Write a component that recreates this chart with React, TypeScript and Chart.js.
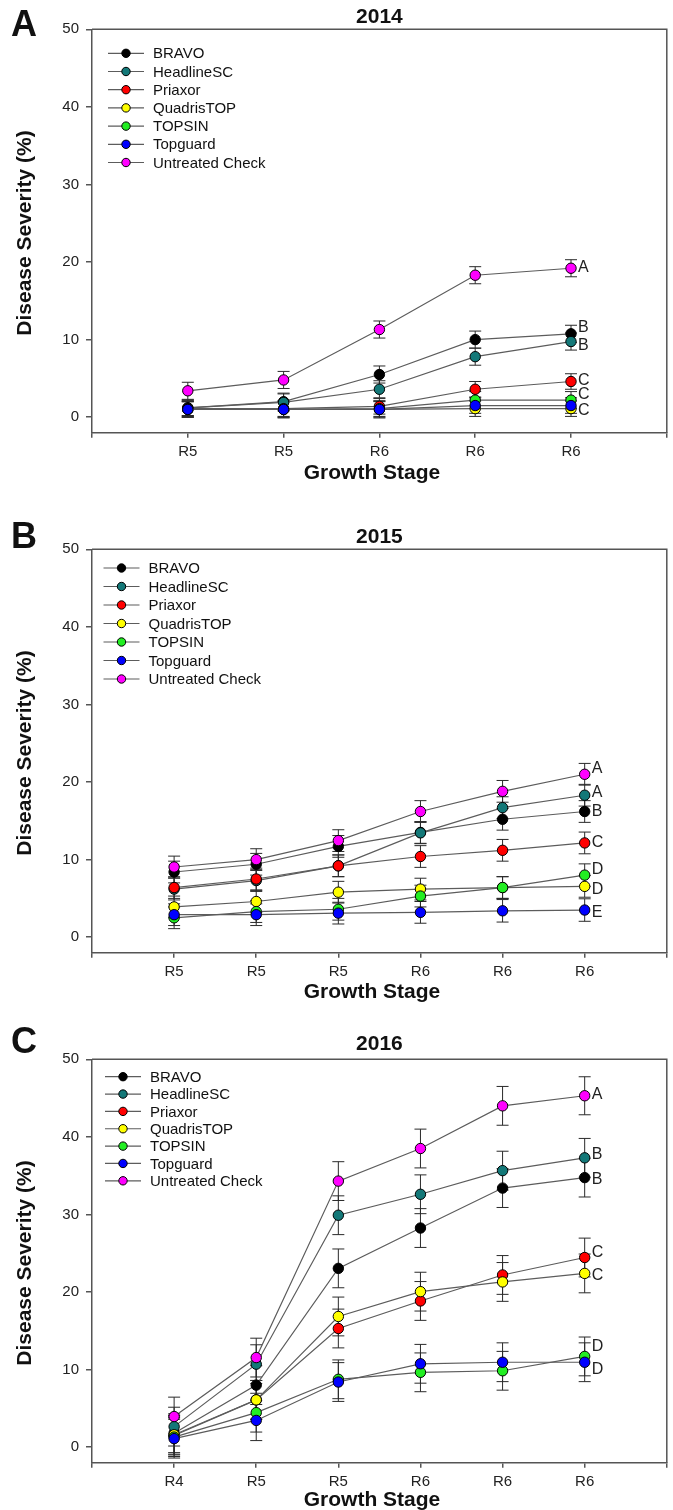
import React, { useEffect, useRef } from 'react';
import { Chart, registerables } from 'chart.js';

Chart.register(...registerables);

const FONT = '"Liberation Sans", Arial, Helvetica, sans-serif';

const seriesNames = ['BRAVO', 'HeadlineSC', 'Priaxor', 'QuadrisTOP', 'TOPSIN', 'Topguard', 'Untreated Check'];
const seriesColors = ['#000000', '#137878', '#ff0000', '#ffff00', '#22ee22', '#0000ff', '#ff00ff'];

// ---------- 2014 ----------
const stages2014 = ['R5', 'R5', 'R6', 'R6', 'R6'];
const bravo2014 = [1.2, 2.0, 5.5, 10.0, 10.75];
const headline2014 = [1.2, 1.9, 3.6, 7.8, 9.75];
const priaxor2014 = [1.1, 1.1, 1.4, 3.6, 4.6];
const quadris2014 = [1.0, 1.0, 1.0, 1.1, 1.1];
const topsin2014 = [1.0, 1.0, 1.1, 2.2, 2.2];
const topguard2014 = [1.0, 1.0, 1.0, 1.5, 1.5];
const untreated2014 = [3.4, 4.8, 11.3, 18.3, 19.2];
const bravoErr2014 = [1.0, 1.1, 1.1, 1.1, 1.1];
const headlineErr2014 = [1.0, 1.1, 1.1, 1.1, 1.1];
const priaxorErr2014 = [1.0, 1.0, 1.0, 1.0, 1.0];
const quadrisErr2014 = [1.0, 1.0, 1.0, 1.0, 1.0];
const topsinErr2014 = [1.0, 1.0, 1.0, 1.1, 1.1];
const topguardErr2014 = [1.0, 1.1, 1.1, 1.0, 1.0];
const untreatedErr2014 = [1.1, 1.1, 1.1, 1.1, 1.1];
const sigLetters2014 = ['A', 'B', 'B', 'C', 'C', 'C'];
const sigValues2014 = [19.3, 11.5, 9.2, 4.7, 2.9, 0.85];

// ---------- 2015 ----------
const stages2015 = ['R5', 'R5', 'R5', 'R6', 'R6', 'R6'];
const bravo2015 = [8.4, 9.4, 11.7, 13.5, 15.2, 16.2];
const headline2015 = [6.2, 7.3, 9.2, 13.45, 16.7, 18.3];
const priaxor2015 = [6.4, 7.5, 9.2, 10.4, 11.2, 12.15];
const quadris2015 = [3.9, 4.6, 5.8, 6.2, 6.4, 6.55];
const topsin2015 = [2.5, 3.3, 3.6, 5.3, 6.4, 8.0];
const topguard2015 = [2.9, 2.9, 3.1, 3.2, 3.4, 3.5];
const untreated2015 = [9.05, 10.0, 12.45, 16.2, 18.8, 21.0];
const bravoErr2015 = [1.4, 1.4, 1.4, 1.4, 1.4, 1.4];
const headlineErr2015 = [1.4, 1.4, 1.4, 1.4, 1.4, 1.4];
const priaxorErr2015 = [1.4, 1.4, 1.4, 1.4, 1.4, 1.4];
const quadrisErr2015 = [1.4, 1.4, 1.4, 1.4, 1.4, 1.4];
const topsinErr2015 = [1.4, 1.4, 1.4, 1.4, 1.4, 1.45];
const topguardErr2015 = [1.4, 1.4, 1.4, 1.4, 1.45, 1.45];
const untreatedErr2015 = [1.4, 1.4, 1.4, 1.4, 1.4, 1.4];
const sigLetters2015 = ['A', 'A', 'B', 'C', 'D', 'D', 'E'];
const sigValues2015 = [21.7, 18.6, 16.2, 12.15, 8.7, 6.1, 3.2];

// ---------- 2016 ----------
const stages2016 = ['R4', 'R5', 'R5', 'R6', 'R6', 'R6'];
const bravo2016 = [1.8, 8.0, 23.05, 28.25, 33.4, 34.75];
const headline2016 = [2.65, 10.7, 29.9, 32.6, 35.65, 37.3];
const priaxor2016 = [1.5, 6.1, 15.3, 18.85, 22.2, 24.45];
const quadris2016 = [1.6, 6.1, 16.85, 20.05, 21.3, 22.4];
const topsin2016 = [1.3, 4.45, 8.75, 9.65, 9.85, 11.7];
const topguard2016 = [1.1, 3.45, 8.4, 10.75, 10.95, 10.95];
const untreated2016 = [3.95, 11.55, 34.3, 38.5, 44.0, 45.3];
const bravoErr2016 = [2.5, 2.5, 2.5, 2.5, 2.5, 2.5];
const headlineErr2016 = [2.5, 2.5, 2.5, 2.5, 2.5, 2.5];
const priaxorErr2016 = [2.5, 2.5, 2.5, 2.5, 2.5, 2.5];
const quadrisErr2016 = [2.5, 2.5, 2.5, 2.5, 2.5, 2.5];
const topsinErr2016 = [2.5, 2.5, 2.5, 2.5, 2.5, 2.5];
const topguardErr2016 = [2.5, 2.6, 2.5, 2.5, 2.5, 2.5];
const untreatedErr2016 = [2.5, 2.5, 2.5, 2.5, 2.5, 2.45];
const sigLetters2016 = ['A', 'B', 'B', 'C', 'C', 'D', 'D'];
const sigValues2016 = [45.5, 37.7, 34.45, 25.1, 22.1, 13.0, 10.05];

const yTicks = [0, 10, 20, 30, 40, 50];
const yMin = -2;
const yMax = 50;

type Panel = {
  year: string;
  letter: string;
  stages: string[];
  values: number[][];
  errors: number[][];
  sigLetters: string[];
  sigValues: number[];
  canvasTop: number;
  height: number;
  chartTop: number;
  chartBottom: number;
  titleY: number;
  letterBase: number;
  xTitleY: number;
  legendY: number;
  legendGap: number;
  legendDx: number;
};

const panels: Panel[] = [
  {
    year: '2014',
    letter: 'A',
    stages: stages2014,
    values: [bravo2014, headline2014, priaxor2014, quadris2014, topsin2014, topguard2014, untreated2014],
    errors: [bravoErr2014, headlineErr2014, priaxorErr2014, quadrisErr2014, topsinErr2014, topguardErr2014, untreatedErr2014],
    sigLetters: sigLetters2014,
    sigValues: sigValues2014,
    canvasTop: 0,
    height: 500,
    chartTop: 29.3,
    chartBottom: 432.7,
    titleY: 17.5,
    letterBase: 36,
    xTitleY: 473,
    legendY: 53.3,
    legendGap: 18.2,
    legendDx: 0,
  },
  {
    year: '2015',
    letter: 'B',
    stages: stages2015,
    values: [bravo2015, headline2015, priaxor2015, quadris2015, topsin2015, topguard2015, untreated2015],
    errors: [bravoErr2015, headlineErr2015, priaxorErr2015, quadrisErr2015, topsinErr2015, topguardErr2015, untreatedErr2015],
    sigLetters: sigLetters2015,
    sigValues: sigValues2015,
    canvasTop: 500,
    height: 510,
    chartTop: 49.3,
    chartBottom: 452.7,
    titleY: 37.5,
    letterBase: 48,
    xTitleY: 492,
    legendY: 68,
    legendGap: 18.5,
    legendDx: -4.5,
  },
  {
    year: '2016',
    letter: 'C',
    stages: stages2016,
    values: [bravo2016, headline2016, priaxor2016, quadris2016, topsin2016, topguard2016, untreated2016],
    errors: [bravoErr2016, headlineErr2016, priaxorErr2016, quadrisErr2016, topsinErr2016, topguardErr2016, untreatedErr2016],
    sigLetters: sigLetters2016,
    sigValues: sigValues2016,
    canvasTop: 1010,
    height: 500,
    chartTop: 49.3,
    chartBottom: 452.7,
    titleY: 34,
    letterBase: 43,
    xTitleY: 490,
    legendY: 66.7,
    legendGap: 17.35,
    legendDx: -3,
  },
];

const WIDTH = 673;
const LINE_COLOR = '#5c5c5c';
const AXIS_COLOR = '#555555';

function makeDecor(panel: Panel) {
  return {
    id: 'decor',
    beforeDatasetsDraw(chart: any) {
      const ctx = chart.ctx;
      const xs = chart.scales.x;
      const ys = chart.scales.y;
      ctx.save();
      ctx.strokeStyle = '#2a2a2a';
      ctx.lineWidth = 1;
      panel.values.forEach((vals, s) => {
        vals.forEach((v, i) => {
          const e = panel.errors[s][i];
          const x = xs.getPixelForValue(i + 1);
          const y1 = ys.getPixelForValue(v + e);
          const y2 = ys.getPixelForValue(v - e);
          ctx.beginPath();
          ctx.moveTo(x, y1);
          ctx.lineTo(x, y2);
          ctx.moveTo(x - 6, y1);
          ctx.lineTo(x + 6, y1);
          ctx.moveTo(x - 6, y2);
          ctx.lineTo(x + 6, y2);
          ctx.stroke();
        });
      });
      ctx.restore();
    },
    afterDraw(chart: any) {
      const ctx = chart.ctx;
      const a = chart.chartArea;
      const xs = chart.scales.x;
      const ys = chart.scales.y;
      ctx.save();
      // frame top/right
      ctx.strokeStyle = AXIS_COLOR;
      ctx.lineWidth = 1.5;
      ctx.beginPath();
      ctx.moveTo(a.left, a.top);
      ctx.lineTo(a.right, a.top);
      ctx.lineTo(a.right, a.bottom);
      ctx.stroke();

      ctx.fillStyle = '#111';
      // Title
      ctx.font = `bold 21px ${FONT}`;
      ctx.textAlign = 'center';
      ctx.textBaseline = 'middle';
      ctx.fillText(panel.year, (a.left + a.right) / 2, panel.titleY);
      // Panel letter
      ctx.font = `bold 36px ${FONT}`;
      ctx.textAlign = 'left';
      ctx.textBaseline = 'alphabetic';
      ctx.fillText(panel.letter, 11, panel.letterBase);
      // X title
      ctx.font = `bold 21px ${FONT}`;
      ctx.textAlign = 'center';
      ctx.textBaseline = 'middle';
      ctx.fillText('Growth Stage', 372, panel.xTitleY);
      // Y title
      ctx.save();
      ctx.translate(25, (a.top + a.bottom) / 2 + 2);
      ctx.rotate(-Math.PI / 2);
      ctx.fillText('Disease Severity (%)', 0, 0);
      ctx.restore();

      // Legend
      ctx.font = `15px ${FONT}`;
      ctx.textAlign = 'left';
      ctx.textBaseline = 'middle';
      seriesNames.forEach((name, i) => {
        const y = panel.legendY + i * panel.legendGap;
        const x0 = 108 + panel.legendDx;
        ctx.strokeStyle = LINE_COLOR;
        ctx.lineWidth = 1.2;
        ctx.beginPath();
        ctx.moveTo(x0, y);
        ctx.lineTo(x0 + 36, y);
        ctx.stroke();
        ctx.beginPath();
        ctx.arc(x0 + 18, y, 4.2, 0, Math.PI * 2);
        ctx.fillStyle = seriesColors[i];
        ctx.fill();
        ctx.strokeStyle = '#000';
        ctx.lineWidth = 1;
        ctx.stroke();
        ctx.fillStyle = '#111';
        ctx.fillText(name, x0 + 45, y + 1);
      });

      // significance letters
      ctx.font = `16px ${FONT}`;
      ctx.fillStyle = '#222';
      const lastX = xs.getPixelForValue(panel.stages.length);
      panel.sigLetters.forEach((l, i) => {
        ctx.fillText(l, lastX + 7, ys.getPixelForValue(panel.sigValues[i]));
      });
      ctx.restore();
    },
  };
}

function PanelChart({ panel }: { panel: Panel }) {
  const ref = useRef<HTMLCanvasElement | null>(null);
  useEffect(() => {
    const canvas = ref.current;
    if (!canvas) return;
    const n = panel.stages.length;
    const datasets = panel.values.map((vals, s) => ({
      label: seriesNames[s],
      data: vals.map((v, i) => ({ x: i + 1, y: v })),
      borderColor: LINE_COLOR,
      borderWidth: 1.2,
      backgroundColor: seriesColors[s],
      pointBackgroundColor: seriesColors[s],
      pointBorderColor: '#000',
      pointBorderWidth: 1,
      pointRadius: 5.2,
      tension: 0,
      fill: false,
      order: 20 - s,
    }));
    const chart = new Chart(canvas, {
      type: 'line',
      data: { datasets },
      options: {
        animation: false,
        responsive: false,
        events: [],
        layout: { padding: { left: 0, right: 6, top: panel.chartTop, bottom: 0 } },
        plugins: { legend: { display: false }, title: { display: false }, tooltip: { enabled: false } },
        scales: {
          x: {
            type: 'linear',
            min: 0,
            max: n + 1,
            afterBuildTicks: (scale: any) => {
              const t = [];
              for (let i = 0; i <= n + 1; i++) t.push({ value: i });
              scale.ticks = t;
            },
            afterFit: (scale: any) => {
              scale.height = panel.height - panel.chartBottom;
            },
            ticks: {
              autoSkip: false,
              maxRotation: 0,
              padding: 5,
              color: '#222',
              font: { family: FONT, size: 15 },
              callback: (v: any) => (v >= 1 && v <= n ? panel.stages[v - 1] : ''),
            },
            grid: { drawOnChartArea: false, drawTicks: true, tickLength: 5, color: AXIS_COLOR, lineWidth: 1.5 },
            border: { display: true, color: AXIS_COLOR, width: 1.5 },
          },
          y: {
            type: 'linear',
            min: yMin,
            max: yMax,
            afterBuildTicks: (scale: any) => {
              scale.ticks = yTicks.map((v) => ({ value: v }));
            },
            afterFit: (scale: any) => {
              scale.width = 92;
            },
            ticks: {
              padding: 7,
              color: '#222',
              font: { family: FONT, size: 15 },
            },
            grid: { drawOnChartArea: false, drawTicks: true, tickLength: 6, color: AXIS_COLOR, lineWidth: 1.5 },
            border: { display: true, color: AXIS_COLOR, width: 1.5 },
          },
        },
      },
      plugins: [makeDecor(panel)],
    } as any);
    return () => chart.destroy();
  }, [panel]);
  return (
    <div style={{ position: 'absolute', left: 0, top: panel.canvasTop, width: WIDTH, height: panel.height }}>
      <canvas ref={ref} width={WIDTH} height={panel.height} style={{ display: 'block' }} />
    </div>
  );
}

export default function App() {
  return (
    <div style={{ position: 'absolute', left: 0, top: 0, width: WIDTH, height: 1510, background: '#fff' }}>
      {panels.map((p) => (
        <PanelChart key={p.year} panel={p} />
      ))}
    </div>
  );
}
